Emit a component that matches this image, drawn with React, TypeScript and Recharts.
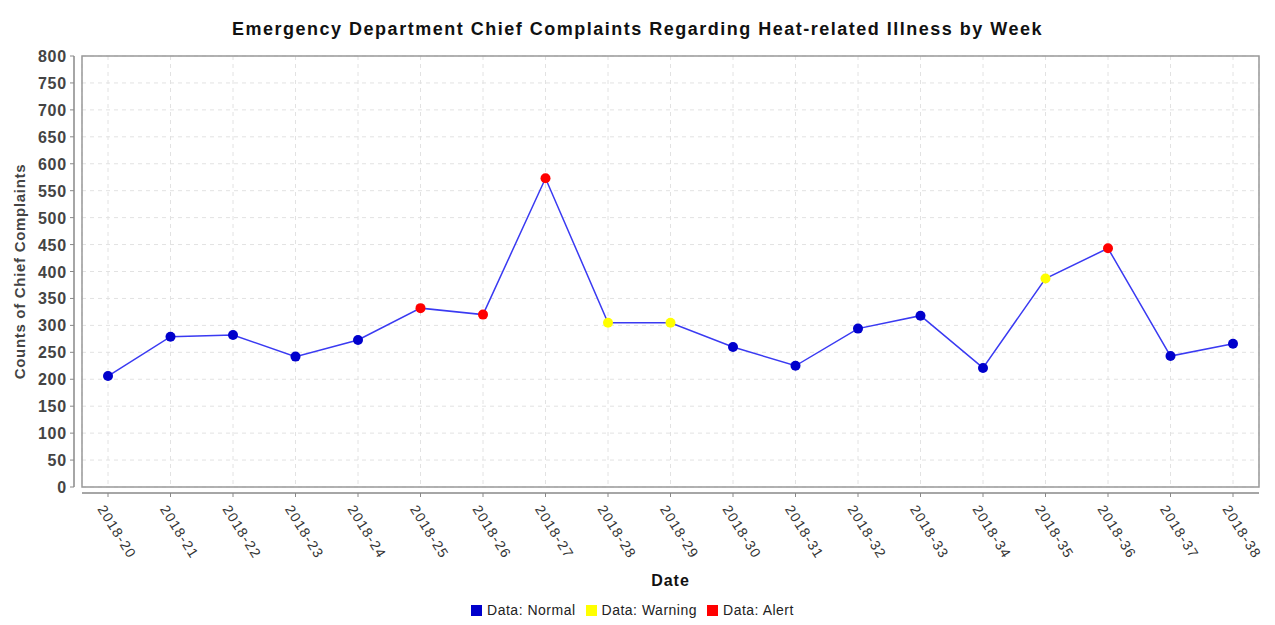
import React from 'react';
import { LineChart, Line, XAxis, YAxis, CartesianGrid } from 'recharts';

const weeks = [
  '2018-20', '2018-21', '2018-22', '2018-23', '2018-24', '2018-25', '2018-26',
  '2018-27', '2018-28', '2018-29', '2018-30', '2018-31', '2018-32', '2018-33',
  '2018-34', '2018-35', '2018-36', '2018-37', '2018-38',
];
const counts = [206, 279, 282, 242, 273, 332, 320, 573, 305, 305, 260, 225, 294, 318, 221, 387, 443, 243, 266];
const levels = [
  'Normal', 'Normal', 'Normal', 'Normal', 'Normal', 'Alert', 'Alert', 'Alert', 'Warning', 'Warning',
  'Normal', 'Normal', 'Normal', 'Normal', 'Normal', 'Warning', 'Alert', 'Normal', 'Normal',
];
const yTicks = [0, 50, 100, 150, 200, 250, 300, 350, 400, 450, 500, 550, 600, 650, 700, 750, 800];
const legendItems = ['Normal', 'Warning', 'Alert'];

const LEVEL_COLORS: Record<string, string> = {
  Normal: '#0000cc',
  Warning: '#ffff00',
  Alert: '#ff0000',
};

const W = 1275;
const H = 625;
const PLOT_LEFT = 82;
const PLOT_RIGHT = 1259;
const PLOT_TOP = 56;
const PLOT_BOTTOM = 487;
const FONT = '"Liberation Sans", Arial, sans-serif';

const data = weeks.map((week, i) => ({ week, count: counts[i], level: levels[i] }));

function YTick(props: any) {
  const { y, payload } = props;
  return (
    <g>
      <line x1={70} x2={74} y1={y} y2={y} stroke="#888" />
      <text
        x={67}
        y={y}
        dy={6}
        textAnchor="end"
        fontSize={16}
        fontWeight="bold"
        letterSpacing={0.8}
        fill="#444"
        fontFamily={FONT}
      >
        {payload.value}
      </text>
    </g>
  );
}

function XTick(props: any) {
  const { x, payload } = props;
  const tx = x - 11;
  const ty = 509;
  return (
    <g>
      <line x1={x} x2={x} y1={493} y2={497} stroke="#888" />
      <text
        x={tx}
        y={ty}
        transform={`rotate(58 ${tx} ${ty})`}
        textAnchor="start"
        fontSize={14}
        letterSpacing={1.2}
        fill="#333"
        fontFamily={FONT}
      >
        {payload.value}
      </text>
    </g>
  );
}

function LevelDot(props: any) {
  const { cx, cy, payload, index } = props;
  if (cx == null || cy == null) return null;
  return <circle key={index} cx={cx} cy={cy} r={5} fill={LEVEL_COLORS[payload.level]} stroke="none" />;
}

export default function App() {
  return (
    <div style={{ position: 'absolute', left: 0, top: 0, width: W, height: H, background: '#fff', fontFamily: FONT }}>
      <div
        style={{
          position: 'absolute',
          top: 19,
          left: 0,
          width: W,
          textAlign: 'center',
          fontSize: 18,
          fontWeight: 'bold',
          letterSpacing: 1.5,
          color: '#111',
        }}
      >
        Emergency Department Chief Complaints Regarding Heat-related Illness by Week
      </div>
      <LineChart
        width={W}
        height={H}
        data={data}
        margin={{ top: PLOT_TOP, right: W - PLOT_RIGHT, bottom: H - PLOT_BOTTOM - 60, left: 0 }}
      >
        <CartesianGrid stroke="#e2e2e2" strokeDasharray="4 4" />
        <XAxis
          dataKey="week"
          interval={0}
          padding={{ left: 26, right: 26 }}
          axisLine={false}
          tickLine={false}
          height={60}
          tick={<XTick />}
        />
        <YAxis
          domain={[0, 800]}
          ticks={yTicks}
          interval={0}
          width={PLOT_LEFT}
          axisLine={false}
          tickLine={false}
          tick={<YTick />}
        />
        <Line
          type="linear"
          dataKey="count"
          stroke="#3a3af2"
          strokeWidth={1.5}
          dot={<LevelDot />}
          activeDot={false}
          isAnimationActive={false}
        />
      </LineChart>
      <svg width={W} height={H} style={{ position: 'absolute', left: 0, top: 0, pointerEvents: 'none' }}>
        <rect
          x={PLOT_LEFT}
          y={PLOT_TOP}
          width={PLOT_RIGHT - PLOT_LEFT}
          height={PLOT_BOTTOM - PLOT_TOP}
          fill="none"
          stroke="#999"
          strokeWidth={1.5}
        />
        <line x1={74} x2={74} y1={PLOT_TOP} y2={PLOT_BOTTOM} stroke="#888" strokeWidth={1.5} />
        <line x1={PLOT_LEFT} x2={PLOT_RIGHT} y1={493} y2={493} stroke="#888" strokeWidth={1.5} />
      </svg>
      <div
        style={{
          position: 'absolute',
          left: 4,
          top: PLOT_TOP,
          width: 32,
          height: PLOT_BOTTOM - PLOT_TOP,
          display: 'flex',
          alignItems: 'center',
          justifyContent: 'center',
        }}
      >
        <div
          style={{
            transform: 'rotate(-90deg)',
            whiteSpace: 'nowrap',
            fontSize: 15,
            fontWeight: 'bold',
            letterSpacing: 0.7,
            color: '#444',
          }}
        >
          Counts of Chief Complaints
        </div>
      </div>
      <div
        style={{
          position: 'absolute',
          left: PLOT_LEFT,
          width: PLOT_RIGHT - PLOT_LEFT,
          top: 572,
          textAlign: 'center',
          fontSize: 16,
          fontWeight: 'bold',
          letterSpacing: 1,
          color: '#111',
        }}
      >
        Date
      </div>
      <div
        style={{
          position: 'absolute',
          left: 0,
          width: W,
          top: 602,
          display: 'flex',
          justifyContent: 'center',
          fontSize: 14,
          letterSpacing: 0.5,
          color: '#222',
        }}
      >
        {legendItems.map((name) => (
          <div key={name} style={{ display: 'flex', alignItems: 'center', marginRight: 10 }}>
            <span style={{ display: 'inline-block', width: 11, height: 11, background: LEVEL_COLORS[name], marginRight: 5 }} />
            <span>Data: {name}</span>
          </div>
        ))}
      </div>
    </div>
  );
}
